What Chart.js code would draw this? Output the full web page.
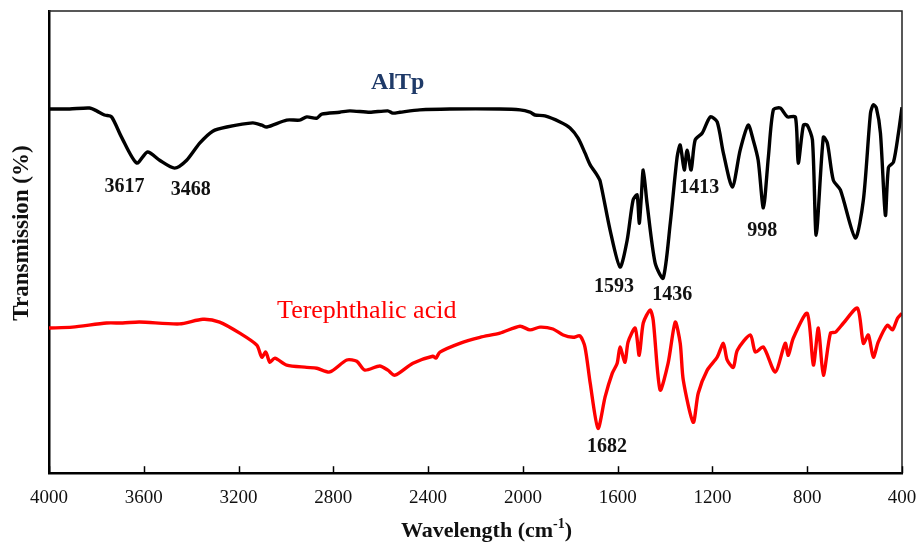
<!DOCTYPE html>
<html>
<head>
<meta charset="utf-8">
<title>FTIR AlTp / Terephthalic acid</title>
<script src="https://cdn.jsdelivr.net/npm/chart.js@4.4.1/dist/chart.umd.min.js"></script>
<style>
  html, body { margin: 0; padding: 0; background: #fff; }
  #chart { display: block; }
</style>
</head>
<body>
<canvas id="chart" width="920" height="547"></canvas>
<script>
// wavenumber (cm-1) and transmission (arbitrary %, offset per trace)
const alTpWave = [4000, 3913, 3829, 3799, 3766, 3736, 3694, 3630, 3584, 3533, 3470, 3419, 3364, 3309, 3250, 3140, 3102, 3081, 2997, 2942, 2912, 2870, 2849, 2773, 2730, 2646, 2570, 2549, 2519, 2435, 2308, 2097, 2012, 1970, 1949, 1907, 1843, 1801, 1767, 1738, 1716, 1687, 1674, 1632, 1590, 1560, 1535, 1518, 1509, 1501, 1492, 1476, 1442, 1408, 1378, 1349, 1336, 1319, 1307, 1290, 1273, 1243, 1209, 1180, 1154, 1116, 1083, 1049, 1028, 1007, 985, 964, 943, 914, 884, 850, 838, 816, 800, 778, 762, 732, 715, 690, 660, 597, 563, 533, 521, 508, 491, 470, 457, 436, 415, 400]
const alTpTrans = [78.8, 78.8, 79.0, 78.4, 77.5, 77.1, 72.7, 67.1, 69.5, 67.7, 66.0, 67.7, 71.4, 74.0, 74.9, 75.8, 75.3, 74.9, 76.4, 76.4, 77.1, 76.8, 77.7, 78.1, 78.4, 78.1, 78.4, 77.9, 78.1, 78.6, 78.8, 78.8, 78.6, 78.1, 77.5, 77.3, 76.0, 74.7, 72.5, 69.3, 66.7, 64.5, 63.2, 52.6, 44.6, 50.4, 59.1, 60.2, 54.1, 59.1, 65.6, 58.4, 45.5, 42.2, 54.1, 68.4, 71.0, 65.6, 69.9, 65.6, 72.1, 73.6, 77.1, 76.0, 69.3, 61.9, 69.9, 75.3, 72.1, 67.7, 57.4, 68.4, 78.6, 79.0, 77.1, 77.1, 67.1, 75.3, 75.3, 72.1, 51.5, 72.7, 71.4, 63.4, 61.3, 50.9, 59.1, 77.9, 79.7, 79.0, 73.6, 55.8, 66.2, 67.3, 73.6, 79.2]

const tpaWave = [4000, 3901, 3757, 3689, 3618, 3449, 3351, 3280, 3195, 3123, 3102, 3085, 3068, 3047, 2997, 2912, 2870, 2815, 2743, 2701, 2667, 2604, 2570, 2540, 2464, 2380, 2367, 2350, 2266, 2181, 2097, 2012, 1970, 1928, 1873, 1830, 1788, 1759, 1738, 1716, 1683, 1653, 1623, 1602, 1590, 1569, 1556, 1526, 1509, 1492, 1463, 1450, 1421, 1387, 1357, 1336, 1323, 1281, 1260, 1222, 1180, 1154, 1138, 1112, 1095, 1040, 1019, 985, 935, 893, 880, 859, 800, 774, 753, 732, 702, 681, 647, 588, 563, 542, 521, 500, 462, 440, 419, 400]
const tpaTrans = [31.4, 31.6, 32.5, 32.5, 32.7, 32.3, 33.3, 32.7, 30.3, 27.7, 25.1, 26.2, 24.0, 24.9, 23.4, 22.9, 22.7, 21.9, 24.5, 24.2, 22.3, 23.2, 22.3, 21.2, 23.8, 25.3, 24.9, 26.2, 28.1, 29.4, 30.3, 31.8, 31.0, 31.6, 31.2, 29.9, 29.4, 29.7, 27.3, 19.5, 9.7, 16.5, 21.6, 23.8, 27.3, 24.0, 28.4, 31.4, 25.5, 32.5, 35.3, 33.1, 18.0, 23.8, 32.7, 28.1, 20.1, 11.0, 17.3, 22.3, 25.1, 28.1, 24.5, 22.9, 26.6, 29.9, 26.2, 27.3, 21.9, 28.1, 25.5, 29.2, 34.6, 23.4, 31.4, 21.2, 30.3, 30.5, 32.5, 35.7, 28.1, 29.9, 25.1, 28.4, 32.0, 31.0, 33.5, 34.6]

const xTickValues = [4000, 3600, 3200, 2800, 2400, 2000, 1600, 1200, 800, 400]
const seriesNames = ["AlTp", "Terephthalic acid"]
const peakNames = ["3617", "3468", "1593", "1436", "1413", "998", "1682"]

// where the text sits, in data units (wavenumber, transmission)
const peakSpots = [[3681, 61.9], [3402, 61.3], [1615, 40.3], [1370, 38.5], [1256, 61.7], [990, 52.4], [1645, 5.6]]
const nameSpots = [[2528, 84.4], [2659, 35.1]]

const SERIF = "'Liberation Serif', 'Times New Roman', serif"

const toPoints = (xs, ys) => xs.map((x, i) => ({ x: x, y: ys[i] }))

const decor = {
  id: "decor",
  afterDraw(chart) {
    const ctx = chart.ctx
    const a = chart.chartArea
    const xs = chart.scales.x
    const ys = chart.scales.y
    ctx.save()

    // thin top / right frame
    ctx.strokeStyle = "#222"
    ctx.lineWidth = 1.5
    ctx.beginPath()
    ctx.moveTo(a.left, a.top)
    ctx.lineTo(a.right, a.top)
    ctx.lineTo(a.right, a.bottom)
    ctx.stroke()

    // inward ticks on x axis
    ctx.strokeStyle = "#000"
    ctx.lineWidth = 1.5
    xs.ticks.forEach(t => {
      const px = Math.round(xs.getPixelForValue(t.value)) + 0.5
      ctx.beginPath()
      ctx.moveTo(px, a.bottom)
      ctx.lineTo(px, a.bottom - 7)
      ctx.stroke()
    })

    // peak labels
    ctx.textAlign = "center"
    ctx.textBaseline = "middle"
    ctx.fillStyle = "#111"
    ctx.font = "bold 20px " + SERIF
    peakNames.forEach((name, i) => {
      ctx.fillText(name, xs.getPixelForValue(peakSpots[i][0]), ys.getPixelForValue(peakSpots[i][1]))
    })

    // series names
    ctx.font = "bold 24px " + SERIF
    ctx.fillStyle = "#1F3A68"
    ctx.fillText(seriesNames[0], xs.getPixelForValue(nameSpots[0][0]), ys.getPixelForValue(nameSpots[0][1]))
    ctx.font = "26px " + SERIF
    ctx.fillStyle = "#FF0000"
    ctx.fillText(seriesNames[1], xs.getPixelForValue(nameSpots[1][0]), ys.getPixelForValue(nameSpots[1][1]))

    // x title with superscript
    ctx.fillStyle = "#111"
    ctx.textAlign = "left"
    ctx.textBaseline = "alphabetic"
    const main = "Wavelength (cm"
    const sup = "-1"
    const tail = ")"
    ctx.font = "bold 22px " + SERIF
    const wMain = ctx.measureText(main).width
    const wTail = ctx.measureText(tail).width
    ctx.font = "bold 14px " + SERIF
    const wSup = ctx.measureText(sup).width
    const total = wMain + wSup + wTail
    let x0 = (a.left + a.right) / 2 + 11 - total / 2
    const base = 537
    ctx.font = "bold 22px " + SERIF
    ctx.fillText(main, x0, base)
    ctx.font = "bold 14px " + SERIF
    ctx.fillText(sup, x0 + wMain, base - 9)
    ctx.font = "bold 22px " + SERIF
    ctx.fillText(tail, x0 + wMain + wSup, base)

    // y title
    ctx.translate(22, 233)
    ctx.rotate(-Math.PI / 2)
    ctx.textAlign = "center"
    ctx.textBaseline = "middle"
    ctx.font = "bold 23px " + SERIF
    ctx.fillText("Transmission (%)", 0, 0)

    ctx.restore()
  }
}

new Chart(document.getElementById("chart").getContext("2d"), {
  type: "line",
  data: {
    datasets: [
      {
        label: seriesNames[0],
        data: toPoints(alTpWave, alTpTrans),
        borderColor: "#000000",
        borderWidth: 3.4,
        pointRadius: 0,
        tension: 0.25,
        fill: false,
      },
      {
        label: seriesNames[1],
        data: toPoints(tpaWave, tpaTrans),
        borderColor: "#FF0000",
        borderWidth: 3.4,
        pointRadius: 0,
        tension: 0.25,
        fill: false,
      },
    ],
  },
  options: {
    responsive: false,
    animation: false,
    devicePixelRatio: 1,
    layout: { padding: { left: 49, right: 18, top: 11, bottom: 25 } },
    plugins: { legend: { display: false }, tooltip: { enabled: false } },
    scales: {
      x: {
        type: "linear",
        reverse: true,
        min: 400,
        max: 4000,
        afterBuildTicks: scale => {
          scale.ticks = xTickValues.map(v => ({ value: v }))
        },
        afterFit: scale => {
          scale.paddingLeft = 0
          scale.paddingRight = 0
        },
        ticks: {
          color: "#111",
          padding: 13,
          maxRotation: 0,
          autoSkip: false,
          font: { family: SERIF, size: 19 },
          callback: v => String(v),
        },
        grid: { drawOnChartArea: false, drawTicks: false },
        border: { color: "#000", width: 2.5 },
      },
      y: {
        min: 0,
        max: 100,
        ticks: { display: false },
        grid: { drawOnChartArea: false, drawTicks: false },
        border: { color: "#000", width: 2.5 },
      },
    },
  },
  plugins: [decor],
})
</script>
</body>
</html>
